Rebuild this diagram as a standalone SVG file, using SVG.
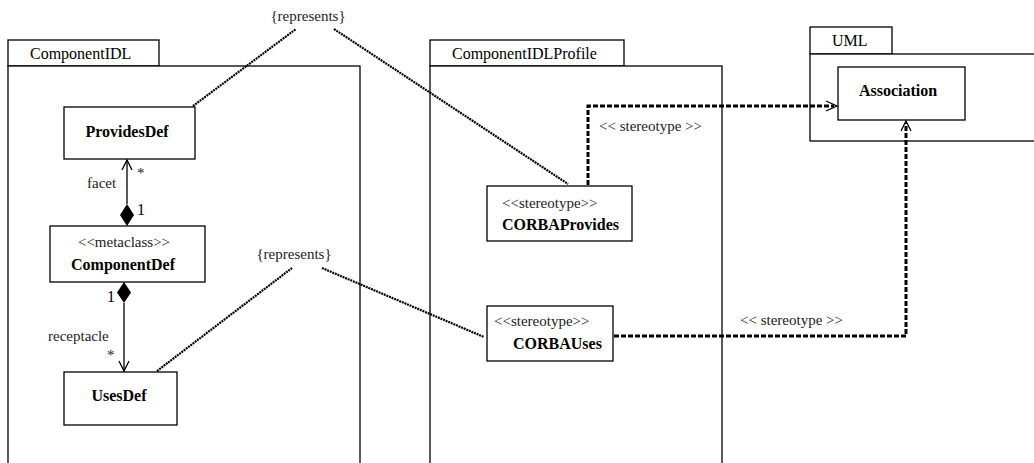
<svg xmlns="http://www.w3.org/2000/svg" width="1034" height="463" viewBox="0 0 1034 463">
<style>
  .pkg { fill: #fff; stroke: #000; stroke-width: 1.3; }
  .box { fill: #fff; stroke: #000; stroke-width: 1.3; }
  text { font-family: "Liberation Serif", "Times New Roman", serif; font-size: 16px; fill: #000; }
  .b { font-weight: bold; }
  .st { font-size: 15px; fill: #222; }
  .dot { fill: none; stroke: #000; stroke-width: 2.2; stroke-dasharray: 2 0.8; }
  .dash { fill: none; stroke: #000; stroke-width: 3; stroke-dasharray: 5 2; }
  .solid { fill: none; stroke: #000; stroke-width: 1.3; }
  .open { fill: none; stroke: #000; stroke-width: 1.3; }
</style>
<rect width="1034" height="463" fill="#fff"/>

<g id="pkg-ComponentIDL">
  <rect class="pkg" x="8" y="40" width="151" height="26"/>
  <rect class="pkg" x="8" y="66" width="352" height="410"/>
  <text x="30" y="59">ComponentIDL</text>
</g>
<g id="pkg-ComponentIDLProfile">
  <rect class="pkg" x="430" y="40" width="194" height="26"/>
  <rect class="pkg" x="430" y="66" width="292" height="410"/>
  <text x="452" y="59">ComponentIDLProfile</text>
</g>
<g id="pkg-UML">
  <rect class="pkg" x="810" y="27" width="82" height="27"/>
  <rect class="pkg" x="810" y="54" width="240" height="87"/>
  <text x="832" y="46">UML</text>
</g>

<g id="node-ProvidesDef">
  <rect class="box" x="64" y="107" width="131" height="52"/>
  <text class="b" x="127" y="137" text-anchor="middle">ProvidesDef</text>
</g>
<g id="node-ComponentDef">
  <rect class="box" x="50" y="226" width="155" height="56"/>
  <text class="st" x="124" y="247" text-anchor="middle">&lt;&lt;metaclass&gt;&gt;</text>
  <text class="b" x="123" y="270" text-anchor="middle">ComponentDef</text>
</g>
<g id="node-UsesDef">
  <rect class="box" x="64" y="372" width="113" height="53"/>
  <text class="b" x="119" y="401" text-anchor="middle">UsesDef</text>
</g>
<g id="node-CORBAProvides">
  <rect class="box" x="487" y="186" width="145" height="55"/>
  <text class="st" x="502" y="208">&lt;&lt;stereotype&gt;&gt;</text>
  <text class="b" x="502" y="230">CORBAProvides</text>
</g>
<g id="node-CORBAUses">
  <rect class="box" x="487" y="306" width="126" height="55"/>
  <text class="st" x="494" y="326">&lt;&lt;stereotype&gt;&gt;</text>
  <text class="b" x="513" y="349">CORBAUses</text>
</g>
<g id="node-Association">
  <rect class="box" x="838" y="67" width="127" height="53"/>
  <text class="b" x="898" y="96" text-anchor="middle">Association</text>
</g>

<g id="connectors">
  <!-- facet composition -->
  <line class="solid" x1="127" y1="160" x2="127" y2="204"/>
  <polyline class="open" points="122,170 127,160 132,170"/>
  <polygon points="127,204 134,215 127,226 120,215" fill="#000"/>
  <text class="st" x="137" y="178">*</text>
  <text class="st" x="87" y="188">facet</text>
  <text x="137" y="215">1</text>

  <!-- receptacle composition -->
  <polygon points="124,282 131,292.5 124,303 117,292.5" fill="#000"/>
  <line class="solid" x1="124" y1="303" x2="124" y2="371"/>
  <polyline class="open" points="119,361 124,371 129,361"/>
  <text x="107" y="302">1</text>
  <text class="st" x="48" y="341">receptacle</text>
  <text class="st" x="107" y="360">*</text>

  <!-- represents (top) -->
  <text class="st" x="308" y="21" text-anchor="middle">{represents}</text>
  <line class="dot" x1="193" y1="106" x2="296" y2="29"/>
  <line class="dot" x1="334" y1="29" x2="568" y2="184"/>

  <!-- represents (bottom) -->
  <text class="st" x="294" y="259" text-anchor="middle">{represents}</text>
  <line class="dot" x1="157" y1="371" x2="292" y2="268"/>
  <line class="dot" x1="322" y1="268" x2="484" y2="337"/>

  <!-- stereotype extensions -->
  <polyline class="dash" points="588,185 588,106 834,106"/>
  <polyline class="open" points="826,101 837,106 826,111"/>
  <text class="st" x="599" y="131">&lt;&lt; stereotype &gt;&gt;</text>

  <polyline class="dash" points="614,336 906,336 906,123"/>
  <polyline class="open" points="901,131 906,121 911,131"/>
  <text class="st" x="740" y="325">&lt;&lt; stereotype &gt;&gt;</text>
</g>
</svg>
